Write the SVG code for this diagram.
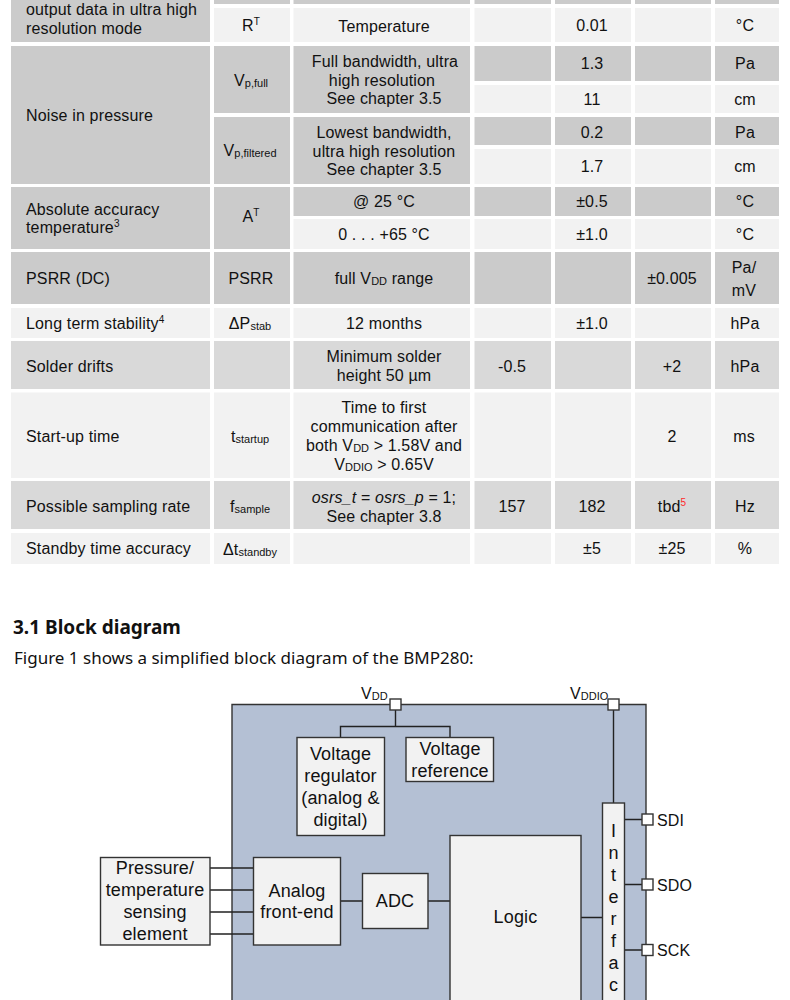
<svg xmlns="http://www.w3.org/2000/svg" width="790" height="1000" viewBox="0 0 790 1000">
<style>
text{font-family:"Liberation Sans",Arial,sans-serif;font-size:16px;fill:#111;letter-spacing:.15px}
.m{text-anchor:middle}
.d{fill:#cbcbcb}.l{fill:#f2f2f2}.e{fill:#d9d9d9}
.s{font-size:11px;letter-spacing:0}
.u{font-size:10px;letter-spacing:0}
.n{fill:#f2f2f2;stroke:#333;stroke-width:1.4}
.p{fill:#fff;stroke:#333;stroke-width:1.4}
.c{fill:none;stroke:#222;stroke-width:1.4}
.g text{font-size:18px}
.g text.t{font-size:16px}
</style>
<rect width="790" height="1000" fill="#fff"/>
<g id="table-cells">
<g class="d">
<rect x="11" y="0" width="199" height="42"/><rect x="214" y="0" width="76" height="4"/><rect x="293.500" y="0" width="176.500" height="4"/><rect x="474.500" y="0" width="76.500" height="4"/><rect x="555" y="0" width="76" height="4"/><rect x="635" y="0" width="76" height="4"/><rect x="715" y="0" width="64" height="4"/>
<rect x="11" y="46" width="199" height="138"/><rect x="214" y="46" width="76" height="67"/><rect x="293.500" y="46" width="176.500" height="67"/><rect x="214" y="117" width="76" height="67"/><rect x="293.500" y="117" width="176.500" height="67"/>
<rect x="474.500" y="46" width="76.500" height="35"/><rect x="555" y="46" width="76" height="35"/><rect x="635" y="46" width="76" height="35"/><rect x="715" y="46" width="64" height="35"/>
<rect x="474.500" y="117" width="76.500" height="28"/><rect x="555" y="117" width="76" height="28"/><rect x="635" y="117" width="76" height="28"/><rect x="715" y="117" width="64" height="28"/>
<rect x="11" y="187" width="199" height="62"/><rect x="214" y="187" width="76" height="62"/><rect x="293.500" y="187" width="176.500" height="29"/><rect x="474.500" y="187" width="76.500" height="29"/><rect x="555" y="187" width="76" height="29"/><rect x="635" y="187" width="76" height="29"/><rect x="715" y="187" width="64" height="29"/>
<rect x="11" y="252" width="199" height="52"/><rect x="214" y="252" width="76" height="52"/><rect x="293.500" y="252" width="176.500" height="52"/><rect x="474.500" y="252" width="76.500" height="52"/><rect x="555" y="252" width="76" height="52"/><rect x="635" y="252" width="76" height="52"/><rect x="715" y="252" width="64" height="52"/>
</g>
<g class="l">
<rect x="214" y="8" width="76" height="34"/><rect x="293.500" y="8" width="176.500" height="34"/><rect x="474.500" y="8" width="76.500" height="34"/><rect x="555" y="8" width="76" height="34"/><rect x="635" y="8" width="76" height="34"/><rect x="715" y="8" width="64" height="34"/>
<rect x="474.500" y="85" width="76.500" height="28"/><rect x="555" y="85" width="76" height="28"/><rect x="635" y="85" width="76" height="28"/><rect x="715" y="85" width="64" height="28"/>
<rect x="474.500" y="149" width="76.500" height="35"/><rect x="555" y="149" width="76" height="35"/><rect x="635" y="149" width="76" height="35"/><rect x="715" y="149" width="64" height="35"/>
<rect x="293.500" y="219" width="176.500" height="30"/><rect x="474.500" y="219" width="76.500" height="30"/><rect x="555" y="219" width="76" height="30"/><rect x="635" y="219" width="76" height="30"/><rect x="715" y="219" width="64" height="30"/>
<rect x="11" y="308" width="199" height="30"/><rect x="214" y="308" width="76" height="30"/><rect x="293.500" y="308" width="176.500" height="30"/><rect x="474.500" y="308" width="76.500" height="30"/><rect x="555" y="308" width="76" height="30"/><rect x="635" y="308" width="76" height="30"/><rect x="715" y="308" width="64" height="30"/>
<rect x="11" y="392.500" width="199" height="85.500"/><rect x="214" y="392.500" width="76" height="85.500"/><rect x="293.500" y="392.500" width="176.500" height="85.500"/><rect x="474.500" y="392.500" width="76.500" height="85.500"/><rect x="555" y="392.500" width="76" height="85.500"/><rect x="635" y="392.500" width="76" height="85.500"/><rect x="715" y="392.500" width="64" height="85.500"/>
<rect x="11" y="533" width="199" height="31"/><rect x="214" y="533" width="76" height="31"/><rect x="293.500" y="533" width="176.500" height="31"/><rect x="474.500" y="533" width="76.500" height="31"/><rect x="555" y="533" width="76" height="31"/><rect x="635" y="533" width="76" height="31"/><rect x="715" y="533" width="64" height="31"/>
</g>
<g class="e">
<rect x="11" y="341" width="199" height="48"/><rect x="214" y="341" width="76" height="48"/><rect x="293.500" y="341" width="176.500" height="48"/><rect x="474.500" y="341" width="76.500" height="48"/><rect x="555" y="341" width="76" height="48"/><rect x="635" y="341" width="76" height="48"/><rect x="715" y="341" width="64" height="48"/>
<rect x="11" y="481" width="199" height="48"/><rect x="214" y="481" width="76" height="48"/><rect x="293.500" y="481" width="176.500" height="48"/><rect x="474.500" y="481" width="76.500" height="48"/><rect x="555" y="481" width="76" height="48"/><rect x="635" y="481" width="76" height="48"/><rect x="715" y="481" width="64" height="48"/>
</g>
</g>
<g id="table-text">
<text x="26" y="15">output data in ultra high</text>
<text x="26" y="34">resolution mode</text>
<text x="26" y="121">Noise in pressure</text>
<text x="26" y="215">Absolute accuracy</text>
<text x="26" y="233">temperature<tspan class="u" dy="-6">3</tspan></text>
<text x="26" y="284">PSRR (DC)</text>
<text x="26" y="329">Long term stability<tspan class="u" dy="-6">4</tspan></text>
<text x="26" y="372">Solder drifts</text>
<text x="26" y="442">Start-up time</text>
<text x="26" y="512">Possible sampling rate</text>
<text x="26" y="554">Standby time accuracy</text>

<text class="m" x="251" y="31">R<tspan class="u" dy="-6">T</tspan></text>
<text class="m" x="251" y="86">V<tspan class="s" dy="1">p,full</tspan></text>
<text class="m" x="250" y="156">V<tspan class="s" dy="1">p,filtered</tspan></text>
<text class="m" x="251" y="222">A<tspan class="u" dy="-6">T</tspan></text>
<text class="m" x="251" y="284">PSRR</text>
<text class="m" x="250" y="329">ΔP<tspan class="s" dy="1">stab</tspan></text>
<text class="m" x="250" y="442">t<tspan class="s" dy="1">startup</tspan></text>
<text class="m" x="250" y="512">f<tspan class="s" dy="1">sample</tspan></text>
<text class="m" x="250" y="555">Δt<tspan class="s" dy="1">standby</tspan></text>

<text class="m" x="384" y="32">Temperature</text>
<text class="m" x="385" y="67">Full bandwidth, ultra</text>
<text class="m" x="382" y="86">high resolution</text>
<text class="m" x="384" y="104">See chapter 3.5</text>
<text class="m" x="384" y="138">Lowest bandwidth,</text>
<text class="m" x="384" y="157">ultra high resolution</text>
<text class="m" x="384" y="175">See chapter 3.5</text>
<text class="m" x="384" y="207">@ 25 °C</text>
<text class="m" x="384" y="240">0 . . . +65 °C</text>
<text class="m" x="384" y="284">full V<tspan class="s" dy="1">DD</tspan><tspan dy="-1"> range</tspan></text>
<text class="m" x="384" y="329">12 months</text>
<text class="m" x="384" y="362">Minimum solder</text>
<text class="m" x="384" y="381">height 50 µm</text>
<text class="m" x="384" y="413">Time to first</text>
<text class="m" x="384" y="432">communication after</text>
<text class="m" x="384" y="451">both V<tspan class="s" dy="1">DD</tspan><tspan dy="-1"> &gt; 1.58V and</tspan></text>
<text class="m" x="384" y="470">V<tspan class="s" dy="1">DDIO</tspan><tspan dy="-1"> &gt; 0.65V</tspan></text>
<text class="m" x="384" y="503" font-style="italic">osrs_t = osrs_p <tspan font-style="normal">= 1;</tspan></text>
<text class="m" x="384" y="522">See chapter 3.8</text>

<text class="m" x="512" y="372">-0.5</text>
<text class="m" x="512" y="512">157</text>

<text class="m" x="592" y="31">0.01</text>
<text class="m" x="592" y="69">1.3</text>
<text class="m" x="592" y="105">11</text>
<text class="m" x="592" y="138">0.2</text>
<text class="m" x="592" y="172">1.7</text>
<text class="m" x="592" y="207">±0.5</text>
<text class="m" x="592" y="240">±1.0</text>
<text class="m" x="592" y="329">±1.0</text>
<text class="m" x="592" y="512">182</text>
<text class="m" x="592" y="554">±5</text>

<text class="m" x="672" y="284">±0.005</text>
<text class="m" x="672" y="372">+2</text>
<text class="m" x="672" y="442">2</text>
<text class="m" x="672" y="512">tbd<tspan class="u" dy="-6" style="fill:#ff2a2a">5</tspan></text>
<text class="m" x="672" y="554">±25</text>

<text class="m" x="745" y="31">°C</text>
<text class="m" x="745" y="69">Pa</text>
<text class="m" x="745" y="105">cm</text>
<text class="m" x="745" y="138">Pa</text>
<text class="m" x="745" y="172">cm</text>
<text class="m" x="745" y="207">°C</text>
<text class="m" x="745" y="240">°C</text>
<text class="m" x="744" y="273">Pa/</text>
<text class="m" x="744" y="296">mV</text>
<text class="m" x="745" y="329">hPa</text>
<text class="m" x="745" y="372">hPa</text>
<text class="m" x="744" y="442">ms</text>
<text class="m" x="745" y="512">Hz</text>
<text class="m" x="745" y="554">%</text>
</g>
<g id="heading">
<text x="13" y="634" style="font-family:'Noto Sans',sans-serif;font-size:19px;font-weight:700;letter-spacing:0">3.1 Block diagram</text>
<text x="14" y="664" style="font-family:'Noto Sans',sans-serif;font-size:17px;letter-spacing:0">Figure 1 shows a simplified block diagram of the BMP280:</text>
</g>
<g class="g">
<g id="chip"><path d="M232 1010V704.500H646V1010" fill="#b4c0d4" stroke="#333" stroke-width="1.4"/></g>
<g id="connectors">
<path class="c" d="M395.500 710V726.500M340.500 737V726.500H450V737M613.500 710V803"/>
<path class="c" d="M210 868H253.500M210 890H253.500M210 912H253.500M210 934H253.500M340.500 901H362.500M428 901H450M581 917.500H602.500M624.500 819.500H642M624.500 884.500H642M624.500 950H642"/>
</g>
<g id="vdd-pad"><rect class="p" x="390" y="699" width="11" height="11"/><text x="361" y="699" class="t">V<tspan class="s" dy="1">DD</tspan></text></g>
<g id="vddio-pad"><rect class="p" x="608" y="699" width="11" height="11"/><text x="570" y="699" class="t">V<tspan class="s" dy="1">DDIO</tspan></text></g>
<g id="voltage-regulator"><rect class="n" x="297" y="737.500" width="87.500" height="98"/>
<text class="m" x="340.500" y="759.500">Voltage</text><text class="m" x="340.500" y="781.500">regulator</text><text class="m" x="340.500" y="803.500">(analog &amp;</text><text class="m" x="340.500" y="825.500">digital)</text></g>
<g id="voltage-reference"><rect class="n" x="406" y="737.500" width="87.500" height="44"/>
<text class="m" x="450" y="754.500">Voltage</text><text class="m" x="450" y="776.500">reference</text></g>
<g id="sensing-element"><rect class="n" x="100.500" y="857.500" width="109.500" height="87.500"/>
<text class="m" x="155" y="874">Pressure/</text><text class="m" x="155" y="896">temperature</text><text class="m" x="155" y="918">sensing</text><text class="m" x="155" y="940">element</text></g>
<g id="analog-front-end"><rect class="n" x="253.500" y="857.500" width="87" height="87.500"/>
<text class="m" x="297" y="896.500">Analog</text><text class="m" x="297" y="918">front-end</text></g>
<g id="adc"><rect class="n" x="362.500" y="873.500" width="65.500" height="55"/><text class="m" x="395" y="907">ADC</text></g>
<g id="logic"><rect class="n" x="450" y="835.500" width="131" height="175"/><text class="m" x="515.500" y="923">Logic</text></g>
<g id="interface"><rect class="n" x="602.500" y="803" width="22" height="207"/>
<text class="m" x="613.500" y="837">I</text><text class="m" x="613.500" y="859">n</text><text class="m" x="613.500" y="881">t</text><text class="m" x="613.500" y="903">e</text><text class="m" x="613.500" y="925">r</text><text class="m" x="613.500" y="947">f</text><text class="m" x="613.500" y="969">a</text><text class="m" x="613.500" y="991">c</text></g>
<g id="sdi"><rect class="p" x="642" y="814" width="11" height="11"/><text class="t" x="657" y="825.500">SDI</text></g>
<g id="sdo"><rect class="p" x="642" y="879" width="11" height="11"/><text class="t" x="657" y="891">SDO</text></g>
<g id="sck"><rect class="p" x="642" y="944.500" width="11" height="11"/><text class="t" x="657" y="955.500">SCK</text></g>
</g>
</svg>
